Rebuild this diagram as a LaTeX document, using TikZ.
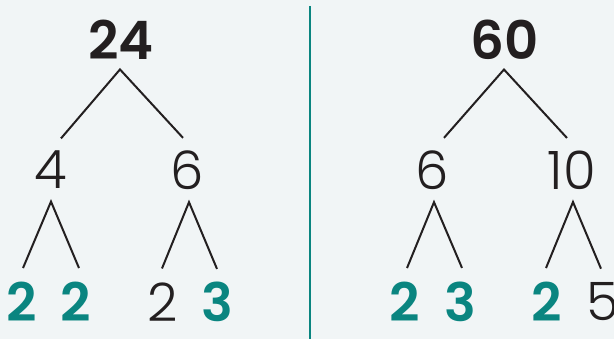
\documentclass[tikz,border=0pt]{standalone}
\usepackage{fontspec}
\setmainfont{Poppins}[UprightFont=* Light, BoldFont=* SemiBold]
\usetikzlibrary{positioning}
\definecolor{bgpanel}{HTML}{F1F5F6}
\definecolor{inkdark}{HTML}{231F20}
\definecolor{primeteal}{HTML}{0A8580}
\newcommand{\digitsize}{\fontsize{53}{53}\selectfont}

\begin{document}
\begin{tikzpicture}[x=1pt, y=-1pt,
    num/.style={inner sep=0pt, text=inkdark, font=\digitsize},
    root/.style={num, font=\digitsize\bfseries},
    prime/.style={num, text=primeteal, font=\digitsize\bfseries},
    branch/.style={draw=inkdark, line width=2pt},
    divider/.style={draw=primeteal, line width=2.2pt}]
    % Background
    \fill[bgpanel] (0,0) rectangle (614,339);
    \useasboundingbox (0,0) rectangle (614,339);

    % Left tree: 24
    \node[root] (l24) at (121,40) {24};
    \node[num] (l4) at (51,170) {4};
    \node[num] (l6) at (187,170) {6};
    \node[prime] (l2a) at (22,302) {2};
    \node[prime] (l2b) at (76,302) {2};
    \node[num] (l2c) at (163,302) {2};
    \node[prime] (l3) at (217,302) {3};

    \coordinate (l24 fork) at ([shift={(-1,9.5)}]l24.south);
    \coordinate (l4 fork) at ([shift={(0,12.5)}]l4.south);
    \coordinate (l6 fork) at ([shift={(2,12.5)}]l6.south);
    \draw[branch] ([shift={(10,-12.5)}]l4.north) -- (l24 fork) -- ([shift={(-4,-12.5)}]l6.north);
    \draw[branch] ([shift={(1,-14)}]l2a.north) -- (l4 fork) -- ([shift={(3,-14)}]l2b.north);
    \draw[branch] ([shift={(-1,-14)}]l2c.north) -- (l6 fork) -- ([shift={(0,-13)}]l3.north);

    % Divider
    \draw[divider] (310,6) -- (310,339);

    % Right tree: 60
    \node[root] (r60) at (505,40) {60};
    \node[num] (r6) at (432,170) {6};
    \node[num] (r10) at (572,170) {10};
    \node[prime] (r2a) at (405,302) {2};
    \node[prime] (r3) at (460,302) {3};
    \node[prime] (r2b) at (547,302) {2};
    \node[num] (r5) at (603,302) {5};

    \coordinate (r60 fork) at ([shift={(-1,9.5)}]r60.south);
    \coordinate (r6 fork) at ([shift={(2,12.5)}]r6.south);
    \coordinate (r10 fork) at ([shift={(1,12.5)}]r10.south);
    \draw[branch] ([shift={(12,-12.5)}]r6.north) -- (r60 fork) -- ([shift={(-5,-12.5)}]r10.north);
    \draw[branch] ([shift={(2,-14)}]r2a.north) -- (r6 fork) -- ([shift={(2,-14)}]r3.north);
    \draw[branch] ([shift={(-1,-14)}]r2b.north) -- (r10 fork) -- ([shift={(-2,-14)}]r5.north);
\end{tikzpicture}
\end{document}
